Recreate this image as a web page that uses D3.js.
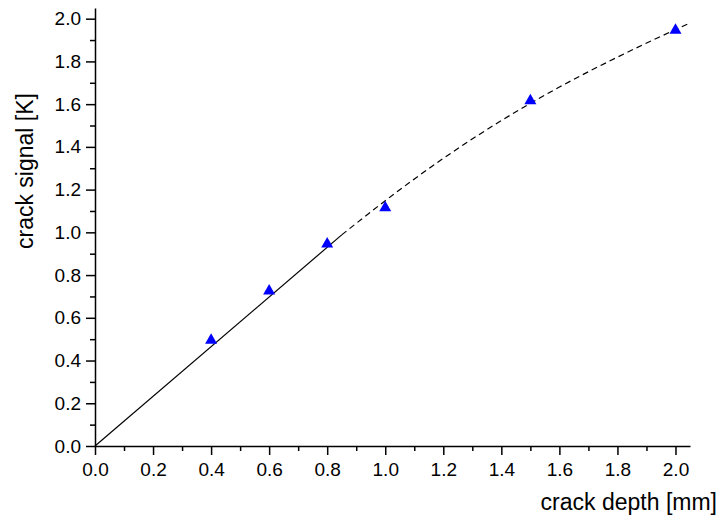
<!DOCTYPE html>
<html>
<head>
<meta charset="utf-8">
<script src="https://cdn.jsdelivr.net/npm/d3@7"></script>
<style>
  html, body { margin: 0; padding: 0; background: #fff; }
  svg { display: block; }
  text { font-family: Arial, "Liberation Sans", sans-serif; fill: #000; }
</style>
</head>
<body>
<svg id="chart" width="719" height="517"></svg>
<script>
// Measured crack signal at each crack depth
const depths = [0.4, 0.6, 0.8, 1.0, 1.5, 2.0];
const signals = [0.50, 0.73, 0.95, 1.12, 1.62, 1.95];

// Linear fit through the origin (shallow cracks)
const linearX = [0.0, 0.85];
const linearY = [0.0, 0.988];

// Saturating trend for deeper cracks (dashed)
const trendX = [0.85, 1.0, 1.2, 1.4, 1.6, 1.8, 2.05];
const trendY = [0.988, 1.148, 1.346, 1.523, 1.68, 1.82, 1.98];

// Axis ticks
const majorTicks = [0.0, 0.2, 0.4, 0.6, 0.8, 1.0, 1.2, 1.4, 1.6, 1.8, 2.0];
const minorTicks = [0.1, 0.3, 0.5, 0.7, 0.9, 1.1, 1.3, 1.5, 1.7, 1.9];
const tickLabels = ["0.0", "0.2", "0.4", "0.6", "0.8", "1.0", "1.2", "1.4", "1.6", "1.8", "2.0"];

const xTitle = "crack depth [mm]";
const yTitle = "crack signal [K]";

const svg = d3.select("#chart");

const x = d3.scaleLinear().domain([0, 2.05]).range([95, 690]);
const y = d3.scaleLinear().domain([0, 2.05]).range([446, 8]);

const fmt = v => tickLabels[majorTicks.indexOf(v)];

// Minor ticks
svg.append("g")
  .attr("transform", `translate(0,${y(0)})`)
  .call(d3.axisBottom(x).tickValues(minorTicks).tickSize(5).tickFormat(""))
  .call(g => g.select(".domain").remove())
  .call(g => g.selectAll("line").attr("stroke-width", 1.5));
svg.append("g")
  .attr("transform", `translate(${x(0)},0)`)
  .call(d3.axisLeft(y).tickValues(minorTicks).tickSize(5).tickFormat(""))
  .call(g => g.select(".domain").remove())
  .call(g => g.selectAll("line").attr("stroke-width", 1.5));

// Major ticks, labels and axis lines
const xAxis = svg.append("g")
  .attr("transform", `translate(0,${y(0)})`)
  .call(d3.axisBottom(x).tickValues(majorTicks).tickSize(9).tickSizeOuter(0).tickPadding(8).tickFormat(fmt));
const yAxis = svg.append("g")
  .attr("transform", `translate(${x(0)},0)`)
  .call(d3.axisLeft(y).tickValues(majorTicks).tickSize(9).tickSizeOuter(0).tickPadding(5).tickFormat(fmt));

[xAxis, yAxis].forEach(g => {
  g.select(".domain").attr("stroke-width", 1.5);
  g.selectAll("line").attr("stroke-width", 1.5);
  g.selectAll("text").attr("font-size", 19);
});

// Axis titles
svg.append("text")
  .attr("x", 717).attr("y", 510)
  .attr("text-anchor", "end")
  .attr("font-size", 23)
  .text(xTitle);
svg.append("text")
  .attr("transform", "translate(33,171) rotate(-90)")
  .attr("text-anchor", "middle")
  .attr("font-size", 23)
  .text(yTitle);

// Fit lines
const line = d3.line().x(d => x(d[0])).y(d => y(d[1]));
const lineCurve = d3.line().x(d => x(d[0])).y(d => y(d[1])).curve(d3.curveMonotoneX);

svg.append("path")
  .datum(linearX.map((v, i) => [v, linearY[i]]))
  .attr("d", line)
  .attr("fill", "none").attr("stroke", "#000").attr("stroke-width", 1.2);

svg.append("path")
  .datum(trendX.map((v, i) => [v, trendY[i]]))
  .attr("d", lineCurve)
  .attr("fill", "none").attr("stroke", "#000").attr("stroke-width", 1.2)
  .attr("stroke-dasharray", "6,4");

// Measured points as blue triangles
svg.append("g")
  .selectAll("path")
  .data(depths.map((v, i) => [v, signals[i]]))
  .join("path")
  .attr("transform", d => `translate(${x(d[0])},${y(d[1])})`)
  .attr("d", "M-6,4.5L6,4.5L0,-6Z")
  .attr("fill", "#0000ff");
</script>
</body>
</html>
